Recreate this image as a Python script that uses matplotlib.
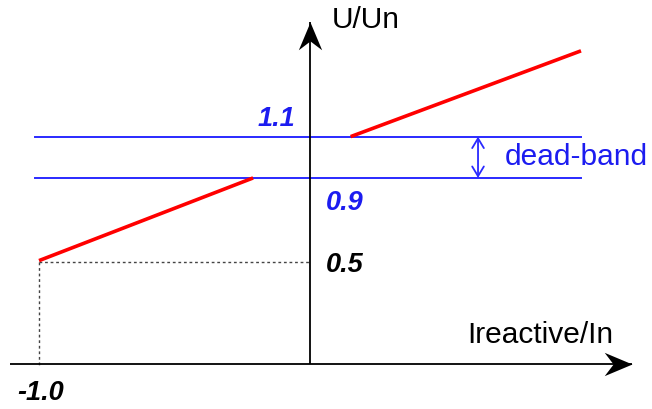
import matplotlib
matplotlib.use("Agg")
import matplotlib.pyplot as plt
from matplotlib.path import Path
from matplotlib.markers import MarkerStyle
from matplotlib.transforms import Affine2D

# ---- data ----
lower_x = [-1.0, -0.21]
lower_y = [0.5, 0.9]
upper_x = [0.15, 1.0]
upper_y = [1.1, 1.515]
band_levels = [0.9, 1.1]
band_x = [-1.015, 1.0]
ref_point = (-1.0, 0.5)
band_arrow_x = 0.62
level_labels = ["1.1", "0.9", "0.5"]
x_label_tick = "-1.0"
xlabel = "Ireactive/In"
ylabel = "U/Un"
band_label = "dead-band"

plt.rcParams['font.family'] = ['Liberation Sans', 'DejaVu Sans']

fig = plt.figure(figsize=(6.52, 4.09), dpi=100)
ax = fig.add_axes([0, 0, 1, 1])
ax.set_xlim(-1.144, 1.262)
ax.set_ylim(-0.218, 1.761)
ax.axis('off')

blue = '#2a2aff'
txtblue = '#1c1cf0'

# axes lines
x_axis = [-1.107, 1.188]
y_axis_top = 1.655
ax.plot(x_axis, [0, 0], color='black', lw=1.3, solid_capstyle='butt', zorder=3)
ax.plot([0, 0], [0, y_axis_top], color='black', lw=1.3, solid_capstyle='butt', zorder=3)

# concave arrow heads
head = Path([(0, 0), (-1, 0.42), (-0.68, 0), (-1, -0.42), (0, 0)],
            [Path.MOVETO, Path.LINETO, Path.LINETO, Path.LINETO, Path.CLOSEPOLY])
mx = MarkerStyle(head)
my = MarkerStyle(head, transform=Affine2D().rotate_deg(90))
ax.plot([x_axis[1]], [0], marker=mx, markersize=40, color='black', mew=0, zorder=4)
ax.plot([0], [y_axis_top], marker=my, markersize=40, color='black', mew=0, zorder=4)

# dead-band lines
for lv in band_levels:
    ax.plot(band_x, [lv, lv], color=blue, lw=1.4, zorder=2)

# red characteristic
ax.plot(lower_x, lower_y, color='red', lw=2.6, solid_capstyle='butt', zorder=5)
ax.plot(upper_x, upper_y, color='red', lw=2.6, solid_capstyle='butt', zorder=5)

# dotted reference lines
ax.plot([ref_point[0], 0], [ref_point[1] - 0.008, ref_point[1] - 0.008],
        color='#444444', lw=1.0, ls=(0, (2, 2)), zorder=1)
ax.plot([ref_point[0], ref_point[0]], [ref_point[1] - 0.008, -0.015],
        color='#444444', lw=1.0, ls=(0, (2, 2)), zorder=1)

# dead-band double arrow
ax.annotate('', xy=(band_arrow_x, band_levels[0]), xytext=(band_arrow_x, band_levels[1]),
            arrowprops=dict(arrowstyle='<->,head_length=0.5,head_width=0.3',
                            color=blue, lw=1.3, mutation_scale=14,
                            shrinkA=0, shrinkB=0))
ax.text(0.72, 1.0, band_label, color=txtblue, fontsize=21.5, va='center', ha='left')

# labels
ax.text(-0.125, 1.185, level_labels[0], color=txtblue, fontsize=19.5, fontweight='bold',
        fontstyle='italic', ha='center', va='center')
ax.text(0.13, 0.78, level_labels[1], color=txtblue, fontsize=19.5, fontweight='bold',
        fontstyle='italic', ha='center', va='center')
ax.text(0.13, 0.478, level_labels[2], color='black', fontsize=19.5, fontweight='bold',
        fontstyle='italic', ha='center', va='center')
ax.text(-0.995, -0.14, x_label_tick, color='black', fontsize=19.5, fontweight='bold',
        fontstyle='italic', ha='center', va='center')

ax.text(0.08, 1.664, ylabel, color='black', fontsize=21.5, ha='left', va='center')
ax.text(0.58, 0.14, xlabel, color='black', fontsize=21.5, ha='left', va='center')

fig.savefig('out.png', dpi=100)
